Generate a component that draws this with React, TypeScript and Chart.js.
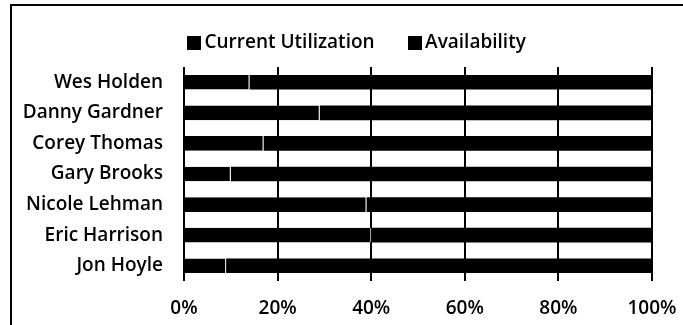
import React, { useEffect, useRef } from "react";
import { Chart, registerables } from "chart.js";

Chart.register(...registerables);

const categories = [
  "Wes Holden",
  "Danny Gardner",
  "Corey Thomas",
  "Gary Brooks",
  "Nicole Lehman",
  "Eric Harrison",
  "Jon Hoyle",
];
const currentUtilization = [14, 29, 17, 10, 39, 40, 9];
const availability = [86, 71, 83, 90, 61, 60, 91];
const xTicks = [0, 20, 40, 60, 80, 100];

const FONT = "'Open Sans', 'DejaVu Sans', sans-serif";

function makeSwatch(): HTMLCanvasElement {
  const c = document.createElement("canvas");
  c.width = 14;
  c.height = 14;
  const g = c.getContext("2d");
  if (g) {
    g.fillStyle = "#000";
    g.fillRect(0, 0, 14, 14);
  }
  return c;
}

export default function App() {
  const ref = useRef<HTMLCanvasElement | null>(null);

  useEffect(() => {
    document.body.style.margin = "0";
    const canvas = ref.current;
    if (!canvas) return;

    const swatch = makeSwatch();

    const legendTune = {
      id: "legendTune",
      afterInit(chart: any) {
        const lg = chart.legend;
        if (!lg) return;
        const orig = lg.fit;
        lg.fit = function () {
          orig.call(lg);
          lg.height = 67;
        };
      },
      afterLayout(chart: any) {
        const lg = chart.legend;
        if (!lg || !lg.lineWidths) return;
        const pad = lg.options.labels.padding;
        const x0 = (lg.left + pad + lg.right - lg.lineWidths[0]) / 2;
        const dx = 193 - x0;
        lg.left += dx;
        lg.right += dx;
        const dy = 43 - (lg.top + pad + 9.5);
        lg.top += dy;
        lg.bottom += dy;
      },
    };

    const chart = new Chart(canvas, {
      type: "bar",
      data: {
        labels: categories,
        datasets: [
          {
            label: "Current Utilization",
            data: currentUtilization,
            backgroundColor: "#000",
            borderColor: "#fff",
            borderWidth: { right: 1, left: 0, top: 0, bottom: 0 },
            borderSkipped: false,
            barPercentage: 0.96,
            categoryPercentage: 0.5,
          },
          {
            label: "Availability",
            data: availability,
            backgroundColor: "#000",
            borderWidth: 0,
            barPercentage: 0.96,
            categoryPercentage: 0.5,
          },
        ],
      },
      options: {
        indexAxis: "y",
        animation: false,
        responsive: false,
        devicePixelRatio: 1,
        layout: { padding: { left: 10, right: 31, top: 0, bottom: 0 } },
        plugins: {
          legend: {
            position: "top",
            labels: {
              color: "#000",
              usePointStyle: true,
              pointStyle: swatch as any,
              boxWidth: 2,
              boxHeight: 14,
              padding: 39,
              font: { family: FONT, size: 19, weight: 600 },
            },
          },
          tooltip: { enabled: false },
        },
        scales: {
          x: {
            stacked: true,
            min: 0,
            max: 100,
            afterBuildTicks(scale: any) {
              scale.ticks = xTicks.map((v) => ({ value: v }));
            },
            afterFit(scale: any) {
              scale.height = 44;
              scale.paddingLeft = 0;
              scale.paddingRight = 0;
            },
            ticks: {
              color: "#000",
              padding: 16.5,
              minRotation: 0,
              maxRotation: 0,
              font: { family: FONT, size: 19, weight: 600 },
              callback: (v: any) => v + "%",
            },
            grid: {
              color: "#000",
              lineWidth: 2,
              drawTicks: false,
            },
            border: { display: false },
          },
          y: {
            stacked: true,
            afterFit(scale: any) {
              scale.width = 174;
              scale.paddingTop = 0;
              scale.paddingBottom = 0;
            },
            ticks: {
              color: "#000",
              padding: 21,
              autoSkip: false,
              font: { family: FONT, size: 19, weight: 600 },
            },
            grid: { display: false, drawTicks: false },
            border: { display: false },
          },
        },
      },
      plugins: [legendTune],
    });

    return () => chart.destroy();
  }, []);

  return (
    <div style={{ position: "relative", width: 683, height: 325, overflow: "hidden", background: "#fff" }}>
      <div
        style={{
          position: "absolute",
          left: 10,
          top: 4,
          width: 700,
          height: 340,
          borderLeft: "2px solid #000",
          borderTop: "2px solid #000",
        }}
      />
      <canvas
        ref={ref}
        width={683}
        height={325}
        style={{ position: "absolute", left: 0, top: 0, width: 683, height: 325 }}
      />
    </div>
  );
}
